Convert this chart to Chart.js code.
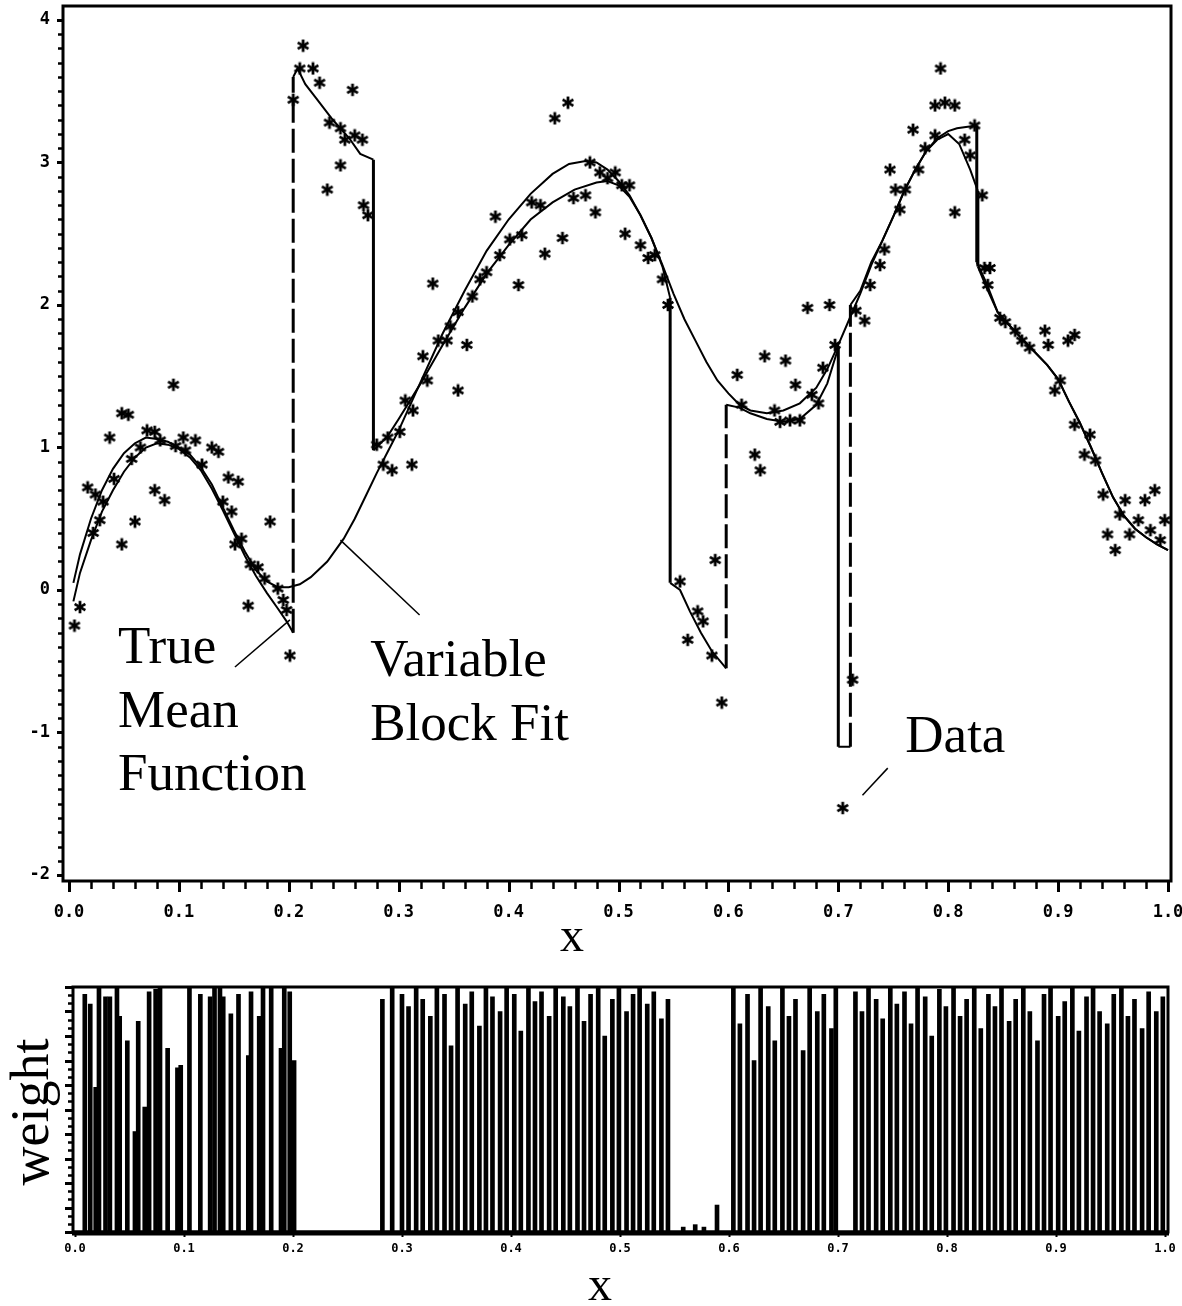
<!DOCTYPE html>
<html><head><meta charset="utf-8">
<script src="https://cdn.jsdelivr.net/npm/chart.js@4.4.1/dist/chart.umd.min.js"></script>
<style>
html,body{margin:0;padding:0;background:#fff;overflow:hidden;}
#wrap{position:relative;width:1182px;height:1306px;background:#fff;}
#c1{position:absolute;left:0;top:0;width:1182px;height:980px;}
#c2{position:absolute;left:0;top:960px;width:1182px;height:346px;}
</style></head><body>
<div id="wrap"><canvas id="c2" width="1182" height="346"></canvas><canvas id="c1" width="1182" height="980"></canvas></div>
<script>
// ---------------- DATA ----------------
const dataX = [
0.005,0.010,0.017,0.022,0.024,0.028,0.031,0.037,0.041,0.048,0.048,0.054,0.057,0.060,0.065,0.071,0.078,0.078,0.083,0.087,0.095,0.097,0.104,0.106,0.115,0.121,0.130,0.136,0.140,0.145,0.148,0.151,0.154,0.157,0.163,0.165,0.172,0.178,0.183,0.190,0.195,0.198,0.201,
0.204,0.210,0.213,0.222,0.228,0.235,0.237,0.247,0.247,0.251,0.258,0.260,0.267,0.268,0.272,
0.280,0.286,0.290,0.294,0.301,0.306,0.312,0.313,0.322,0.326,0.331,0.336,0.344,0.347,0.354,0.354,0.362,0.367,0.374,0.380,0.388,0.392,0.401,0.409,0.412,0.421,0.429,0.433,0.442,0.449,0.454,0.459,0.470,0.474,0.479,0.483,0.490,0.497,0.503,0.506,0.510,0.520,0.527,0.533,0.540,0.545,
0.556,0.563,0.572,0.577,0.585,0.588,0.594,
0.608,0.612,0.624,0.629,0.633,0.642,0.647,0.652,0.656,0.661,0.665,0.672,0.676,0.682,0.686,0.692,0.697,
0.704,0.713,
0.716,0.724,0.729,0.738,0.742,0.747,0.752,0.756,0.761,0.768,0.773,0.779,0.788,0.788,0.793,0.797,0.806,0.806,0.815,0.820,0.824,0.831,0.833,0.836,0.838,0.847,0.852,0.861,0.867,0.874,0.888,0.891,0.897,0.902,0.909,0.915,0.915,0.924,0.929,0.934,0.941,0.945,0.952,0.956,0.961,0.965,0.973,0.979,0.984,0.988,0.993,0.997
];
const dataY = [
-0.25,-0.12,0.72,0.40,0.67,0.49,0.62,1.07,0.78,0.32,1.24,1.23,0.92,0.48,1.00,1.12,0.70,1.11,1.05,0.63,1.44,1.01,1.07,0.98,1.05,0.88,1.00,0.97,0.62,0.79,0.55,0.32,0.76,0.36,-0.11,0.18,0.16,0.08,0.48,0.01,-0.07,-0.14,-0.46,
3.44,3.66,3.82,3.66,3.56,2.81,3.28,3.24,2.98,3.16,3.51,3.19,3.16,2.70,2.63,
1.02,0.88,1.07,0.84,1.11,1.33,0.88,1.26,1.64,1.47,2.15,1.75,1.75,1.85,1.95,1.40,1.72,2.06,2.18,2.23,2.62,2.35,2.46,2.14,2.49,2.72,2.70,2.36,3.31,2.47,3.42,2.75,2.77,3.00,2.65,2.93,2.89,2.93,2.84,2.50,2.84,2.42,2.33,2.35,2.18,2.00,
0.06,-0.35,-0.15,-0.22,-0.46,0.21,-0.79,
1.51,1.30,0.95,0.84,1.64,1.26,1.18,1.61,1.19,1.44,1.19,1.98,1.37,1.31,1.56,2.00,1.72,
-1.53,-0.63,
1.96,1.89,2.14,2.28,2.39,2.95,2.81,2.67,2.81,3.23,2.95,3.10,3.19,3.40,3.66,3.42,3.40,2.65,3.16,3.05,3.26,2.77,2.26,2.14,2.26,1.91,1.88,1.82,1.75,1.70,1.82,1.72,1.40,1.47,1.75,1.79,1.16,0.95,1.09,0.91,0.67,0.39,0.28,0.53,0.63,0.39,0.49,0.63,0.42,0.70,0.35,0.49
];

// True mean function (jumps = repeated x)
const trueX = [0.004,0.01,0.02,0.03,0.04,0.05,0.06,0.07,0.08,0.09,0.10,0.11,0.12,0.13,0.14,0.15,0.16,0.17,0.18,0.19,0.198,0.204,
 0.204,0.208,0.215,0.225,0.24,0.255,0.265,0.277,
 0.277,0.29,0.30,0.32,0.34,0.36,0.38,0.40,0.42,0.44,0.46,0.48,0.49,0.50,0.51,0.52,0.53,0.54,0.547,
 0.547,0.556,0.565,0.575,0.585,0.598,
 0.598,0.61,0.62,0.635,0.65,0.665,0.68,0.69,0.70,
 0.70,0.711,
 0.711,0.72,0.73,0.74,0.75,0.76,0.77,0.78,0.79,0.80,0.808,0.826,
 0.826,0.835,0.845,0.86,0.875,0.89,0.90,0.91,0.92,0.93,0.94,0.95,0.96,0.97,0.98,0.99,1.00];
const trueY = [-0.08,0.12,0.35,0.55,0.70,0.83,0.93,1.00,1.03,1.02,0.99,0.93,0.84,0.71,0.56,0.40,0.24,0.10,-0.02,-0.13,-0.22,-0.30,
 3.60,3.66,3.55,3.45,3.30,3.17,3.06,3.02,
 0.98,1.08,1.20,1.45,1.72,1.98,2.22,2.42,2.60,2.72,2.81,2.86,2.87,2.84,2.76,2.63,2.47,2.27,2.05,
 0.05,0.00,-0.15,-0.30,-0.43,-0.55,
 1.30,1.28,1.24,1.20,1.18,1.20,1.30,1.45,1.70,
 -1.10,-1.10,
 2.00,2.10,2.30,2.45,2.62,2.80,2.95,3.08,3.17,3.22,3.24,3.26,
 2.30,2.15,1.95,1.82,1.70,1.58,1.48,1.32,1.17,1.00,0.82,0.65,0.52,0.43,0.37,0.32,0.28];

// Variable block fit
const fitX = [0.004,0.01,0.02,0.03,0.04,0.05,0.06,0.07,0.08,0.09,0.10,0.11,0.12,0.13,0.14,0.15,0.16,0.17,0.18,0.19,0.20,0.21,0.22,0.235,0.25,0.26,0.27,0.28,0.29,0.30,0.32,0.34,0.36,0.38,0.40,0.42,0.44,0.455,0.47,0.48,0.49,0.50,0.51,0.52,0.53,0.54,0.55,0.56,0.57,0.58,0.59,0.60,0.61,0.62,0.635,0.65,0.665,0.68,0.69,0.70,0.71,0.72,0.73,0.74,0.75,0.76,0.77,0.78,0.79,0.80,0.81,0.82,0.827,
 0.827,0.835,0.845,0.86,0.875,0.89,0.90,0.91,0.92,0.93,0.94,0.95,0.96,0.97,0.98,0.99,1.00];
const fitY = [0.05,0.25,0.50,0.70,0.85,0.96,1.03,1.07,1.06,1.04,1.00,0.95,0.86,0.74,0.58,0.42,0.27,0.14,0.06,0.02,0.02,0.04,0.09,0.20,0.36,0.50,0.66,0.82,0.97,1.12,1.46,1.80,2.10,2.38,2.60,2.78,2.92,2.99,3.01,3.00,2.95,2.87,2.77,2.63,2.47,2.28,2.08,1.90,1.75,1.60,1.47,1.38,1.30,1.26,1.24,1.26,1.31,1.42,1.55,1.72,1.90,2.08,2.28,2.45,2.62,2.80,2.95,3.08,3.16,3.20,3.13,2.95,2.80,
 2.27,2.12,1.95,1.82,1.70,1.58,1.48,1.32,1.17,1.00,0.82,0.65,0.52,0.43,0.37,0.32,0.28];

// weights (lower panel)
const weightX = [0.009,0.014,0.019,0.022,0.028,0.032,0.0385,0.041,0.048,0.055,0.058,0.064,0.068,0.074,0.078,0.085,0.094,0.097,0.105,0.115,0.124,0.128,0.133,0.136,0.143,0.150,0.159,0.1615,0.169,0.1725,0.180,0.189,0.192,0.197,0.201,
 0.282,0.291,0.300,0.306,0.313,0.319,0.326,0.332,0.339,0.345,0.351,0.358,0.364,0.371,0.377,0.383,0.390,0.396,0.403,0.409,0.416,0.422,0.428,0.435,0.441,0.448,0.454,0.461,0.467,0.473,0.480,0.486,0.493,0.499,0.506,0.512,0.518,0.525,0.531,0.538,0.544,
 0.558,0.569,0.577,0.589,
 0.604,0.610,0.617,0.623,0.629,0.636,0.642,0.649,0.655,0.661,0.668,0.674,0.681,0.687,0.694,0.698,
 0.716,0.722,0.728,0.735,0.741,0.748,0.754,0.761,0.767,0.773,0.780,0.786,0.793,0.799,0.806,0.812,0.818,0.825,0.831,0.838,0.844,0.850,0.857,0.863,0.870,0.876,0.883,0.889,0.895,0.902,0.908,0.915,0.921,0.928,0.934,0.940,0.947,0.953,0.960,0.966,0.972,0.979,0.985,0.992,0.998];
const weightVal = [0.97,0.93,0.59,1.0,0.96,0.96,1.0,0.88,0.78,0.41,0.86,0.51,0.98,0.99,1.0,0.75,0.67,0.68,1.0,0.97,0.96,1.0,1.0,0.96,0.89,0.97,0.72,0.98,0.88,1.0,1.0,0.75,1.0,0.98,0.70,
 0.95,1.0,0.97,0.92,1.0,0.95,0.88,1.0,0.97,0.76,1.0,0.93,0.98,0.84,1.0,0.96,0.90,1.0,0.97,0.82,1.0,0.94,0.98,0.88,1.0,0.96,0.92,1.0,0.86,0.97,1.0,0.80,0.95,1.0,0.90,0.97,1.0,0.93,0.98,0.87,0.95,
 0.02,0.03,0.02,0.11,
 1.0,0.85,0.97,0.70,1.0,0.92,0.78,1.0,0.88,0.95,0.74,1.0,0.90,0.97,0.83,1.0,
 0.98,0.90,1.0,0.95,0.87,1.0,0.93,0.98,0.85,1.0,0.96,0.80,0.99,0.92,1.0,0.88,0.95,1.0,0.83,0.97,0.92,1.0,0.86,0.95,1.0,0.90,0.78,0.97,1.0,0.88,0.94,1.0,0.82,0.96,1.0,0.90,0.85,0.97,1.0,0.88,0.95,0.83,0.98,0.90,0.96];

const xTickLabels = ['0.0','0.1','0.2','0.3','0.4','0.5','0.6','0.7','0.8','0.9','1.0'];
const xTickValues = [0,0.1,0.2,0.3,0.4,0.5,0.6,0.7,0.8,0.9,1.0];
const yTickLabels = ['-2','-1','0','1','2','3','4'];
const yTickValues = [-2,-1,0,1,2,3,4];

// annotation labels (data coordinates of text baseline-left) and pointer lines
const noteText = ['True','Mean','Function','Variable','Block Fit','Data'];
const noteX = [0.0446,0.0446,0.0446,0.274,0.274,0.761];
const noteY = [-0.512,-0.961,-1.40,-0.604,-1.053,-1.137];
const pointerTrue = [{x:0.151,y:-0.54},{x:0.201,y:-0.21}];
const pointerFit = [{x:0.319,y:-0.175},{x:0.247,y:0.35}];
const pointerData = [{x:0.722,y:-1.44},{x:0.745,y:-1.25}];

// ---------------- helpers ----------------
function starImage(){
  const c=document.createElement('canvas'); c.width=14; c.height=14;
  const g=c.getContext('2d'); g.strokeStyle='#000'; g.lineWidth=2.8;
  const r=6.2, cx=7, cy=7;
  [90,30,150].forEach(a=>{const t=a*Math.PI/180; g.beginPath(); g.moveTo(cx-r*Math.cos(t),cy-r*Math.sin(t)); g.lineTo(cx+r*Math.cos(t),cy+r*Math.sin(t)); g.stroke();});
  return c;
}
const pts=(xs,ys)=>xs.map((x,i)=>({x:x,y:ys[i]}));
const isJump = ctx => ctx.p0.parsed.x === ctx.p1.parsed.x;
const noPad = s => { s.paddingTop=0; s.paddingBottom=0; s.paddingLeft=0; s.paddingRight=0; };

function range(a,b,step){const r=[];const n=Math.round((b-a)/step);for(let i=0;i<=n;i++)r.push(+(a+i*step).toFixed(6));return r;}

const axisDecor = {
  id:'axisDecor',
  afterDraw(chart, args, o){
    const {ctx, chartArea:a, scales:{x,y}} = chart;
    ctx.save();
    ctx.strokeStyle='#000'; ctx.fillStyle='#000';
    ctx.lineWidth=o.frame;
    ctx.strokeRect(a.left, a.top, a.right-a.left, a.bottom-a.top);
    if (o.bottomAxis){ ctx.lineWidth=o.bottomAxis; ctx.beginPath(); ctx.moveTo(a.left-1,a.bottom+1); ctx.lineTo(a.right+1,a.bottom+1); ctx.stroke(); }
    const tick=(vals,len,w,axis)=>{ctx.lineWidth=w;ctx.beginPath();vals.forEach(v=>{
      if(axis==='x'){const p=Math.round(x.getPixelForValue(v))+0.5; ctx.moveTo(p,a.bottom); ctx.lineTo(p,a.bottom+len);}
      else {const p=Math.round(y.getPixelForValue(v))+0.5; ctx.moveTo(a.left,p); ctx.lineTo(a.left-len,p);}
    });ctx.stroke();};
    tick(o.xMinor,o.xMinorLen,o.xMinorW,'x');
    tick(o.xMajor,o.xMajorLen,o.xMajorW,'x');
    tick(o.yMinor,o.yMinorLen,o.yMinorW,'y');
    tick(o.yMajor,o.yMajorLen,o.yMajorW,'y');
    (o.titles||[]).forEach(t=>{
      ctx.save(); ctx.font=t.font; ctx.textAlign='center'; ctx.textBaseline='alphabetic';
      ctx.translate(t.x,t.y); if(t.rot) ctx.rotate(t.rot); ctx.fillText(t.text,0,0); ctx.restore();
    });
    (o.notes||[]).forEach((s,i)=>{
      ctx.font='53px "Liberation Serif", serif'; ctx.textAlign='left'; ctx.textBaseline='alphabetic';
      ctx.fillText(s, x.getPixelForValue(noteX[i]), y.getPixelForValue(noteY[i]));
    });
    ctx.restore();
  }
};

const star = starImage();
const lineDs = (label,data,w)=>({label, data, showLine:true, borderColor:'#000', borderWidth:w, pointRadius:0, tension:0, fill:false,
  segment:{borderDash: c=>isJump(c)?[24,6]:undefined, borderWidth: c=>isJump(c)?3:w}});

const tickFont = {family:'"DejaVu Sans Mono", monospace', size:17, weight:'bold'};

// ---------------- TOP CHART ----------------
new Chart(document.getElementById('c1'), {
  type:'scatter',
  data:{datasets:[
    {label:'Data', data:pts(dataX,dataY), pointStyle:star, pointRadius:7, showLine:false},
    lineDs('True Mean Function', pts(trueX,trueY), 2),
    lineDs('Variable Block Fit', pts(fitX,fitY), 2),
    {label:'ptr1', data:pointerTrue, showLine:true, borderColor:'#000', borderWidth:1.5, pointRadius:0, clip:false},
    {label:'ptr2', data:pointerFit, showLine:true, borderColor:'#000', borderWidth:1.5, pointRadius:0, clip:false},
    {label:'ptr3', data:pointerData, showLine:true, borderColor:'#000', borderWidth:1.5, pointRadius:0, clip:false}
  ]},
  options:{
    responsive:false, animation:false, devicePixelRatio:1,
    layout:{autoPadding:false, padding:{top:6,right:11,left:0,bottom:0}},
    plugins:{legend:{display:false}, tooltip:{enabled:false},
      axisDecor:{frame:3, xMinor:range(0,1,0.02), xMinorLen:8, xMinorW:2.5, xMajor:xTickValues, xMajorLen:11, xMajorW:3,
        yMinor:range(-2,4,0.1), yMinorLen:5, yMinorW:2.5, yMajor:yTickValues, yMajorLen:6, yMajorW:3,
        titles:[{text:'x', x:572, y:951, font:'48px "Liberation Serif", serif'}],
        notes:noteText}},
    scales:{
      x:{type:'linear', min:-0.00546, max:1.00273, border:{display:false}, grid:{display:false, drawTicks:false},
        afterBuildTicks:s=>{s.ticks=xTickValues.map(v=>({value:v}));},
        afterFit:s=>{s.height=99; noPad(s);},
        ticks:{padding:21, color:'#000', font:tickFont, maxRotation:0, autoSkip:false,
          callback:(v,i)=>xTickLabels[i]}},
      y:{type:'linear', min:-2.0421, max:4.0982, border:{display:false}, grid:{display:false, drawTicks:false},
        afterBuildTicks:s=>{s.ticks=yTickValues.map(v=>({value:v}));},
        afterFit:s=>{s.width=63; noPad(s);},
        ticks:{padding:13, color:'#000', font:tickFont, autoSkip:false,
          callback:(v,i)=>yTickLabels[i]}}
    }
  },
  plugins:[axisDecor]
});

// ---------------- BOTTOM CHART ----------------
new Chart(document.getElementById('c2'), {
  type:'bar',
  data:{datasets:[{label:'weight', data:pts(weightX,weightVal), backgroundColor:'#000', borderWidth:0, barThickness:4}]},
  options:{
    responsive:false, animation:false, devicePixelRatio:1,
    layout:{autoPadding:false, padding:{top:27,right:14,left:0,bottom:0}},
    plugins:{legend:{display:false}, tooltip:{enabled:false},
      axisDecor:{frame:3, bottomAxis:5, xMinor:[], xMinorLen:0, xMinorW:0, xMajor:xTickValues, xMajorLen:5, xMajorW:2,
        yMinor:range(0,1,1/30), yMinorLen:5, yMinorW:2.5, yMajor:range(0,1,0.1), yMajorLen:8, yMajorW:3,
        titles:[{text:'x', x:600, y:340, font:'48px "Liberation Serif", serif'},
                {text:'weight', x:48, y:152, rot:-Math.PI/2, font:'54px "Liberation Serif", serif'}]}},
    scales:{
      x:{type:'linear', min:-0.00183, max:1.00275, offset:false, border:{display:false}, grid:{display:false, drawTicks:false, offset:false},
        afterBuildTicks:s=>{s.ticks=xTickValues.map(v=>({value:v}));},
        afterFit:s=>{s.height=74; noPad(s);},
        ticks:{padding:10, color:'#000', font:{family:'"DejaVu Sans Mono", monospace', size:12, weight:'bold'}, maxRotation:0, autoSkip:false,
          callback:(v,i)=>xTickLabels[i]}},
      y:{type:'linear', min:0, max:1.0, border:{display:false}, grid:{display:false, drawTicks:false},
        afterFit:s=>{s.width=73; noPad(s);},
        ticks:{display:false}}
    }
  },
  plugins:[axisDecor]
});
</script></body></html>
